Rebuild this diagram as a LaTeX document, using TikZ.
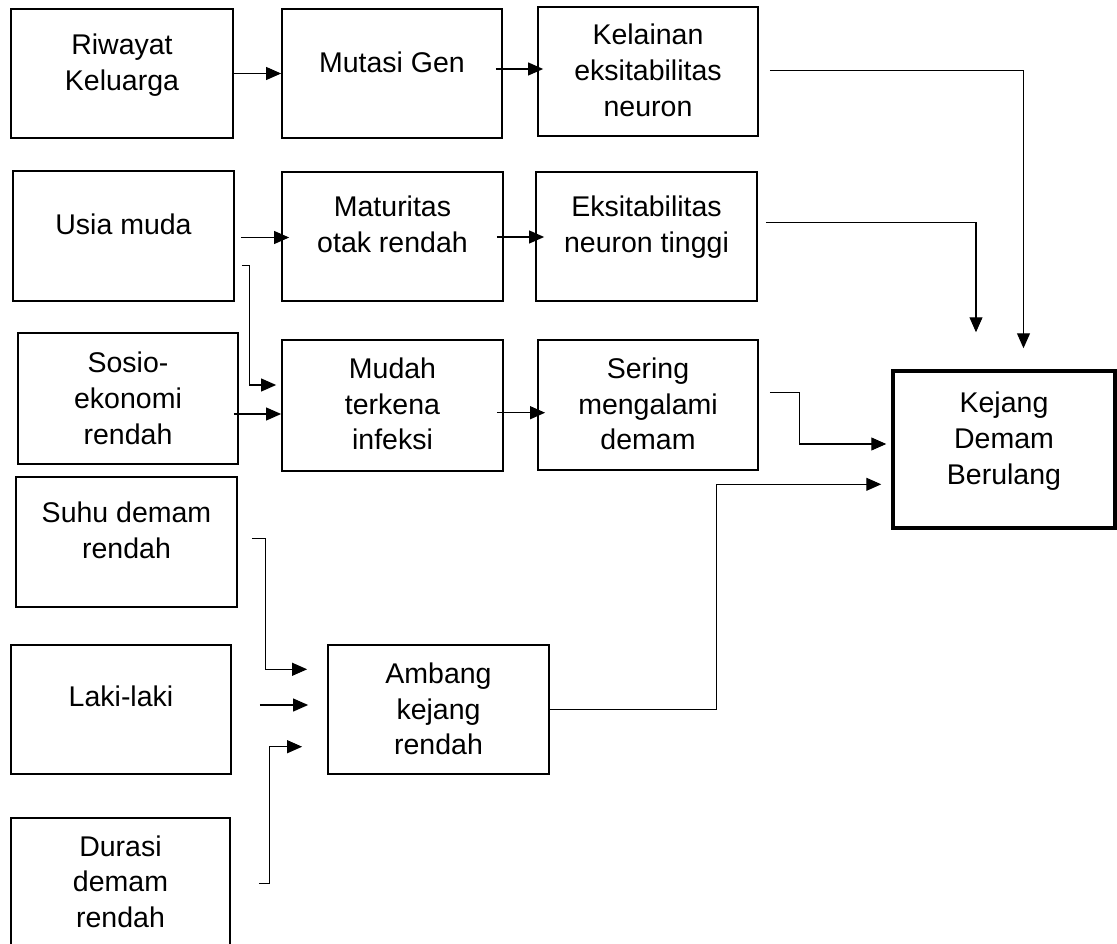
\documentclass[tikz,border=0pt]{standalone}
\usepackage{fontspec}
\setmainfont{Liberation Sans}
\usetikzlibrary{arrows.meta,calc}
\newcommand\tlines[1]{\vtop{\baselineskip=35.7pt\lineskiplimit=-100pt\halign{\hfil##\hfil\cr#1\crcr}}}
\begin{document}
\begin{tikzpicture}[x=1pt,y=-1pt,
  box/.style={draw, rectangle, line width=1.8pt, inner sep=0pt},
  mainbox/.style={box, line width=3.5pt},
  txt/.style={font=\fontsize{28.5}{35.7}\selectfont, inner sep=0pt, anchor=base},
  arr/.style={-{Triangle[length=15pt,width=13pt]}, line width=1.1pt}]
\useasboundingbox (0,0) rectangle (1117,944);
\clip (0,0) rectangle (1117,944);
% boxes
\node[box, minimum width=222pt, minimum height=129pt] (riwayat) at (122,73.5) {};
\node[box, minimum width=220pt, minimum height=129pt] (mutasi) at (392,73.5) {};
\node[box, minimum width=220pt, minimum height=129pt] (kelainan) at (648,71.5) {};
\node[box, minimum width=221pt, minimum height=130pt] (usia) at (123.5,236) {};
\node[box, minimum width=221pt, minimum height=129pt] (maturitas) at (392.5,236.5) {};
\node[box, minimum width=221pt, minimum height=129pt] (eksit) at (646.5,236.5) {};
\node[box, minimum width=220pt, minimum height=131pt] (sosio) at (128,398.5) {};
\node[box, minimum width=221pt, minimum height=131pt] (mudah) at (392.5,405.5) {};
\node[box, minimum width=220pt, minimum height=130pt] (sering) at (648,405) {};
\node[box, minimum width=221pt, minimum height=130pt] (suhu) at (126.5,542) {};
\node[box, minimum width=220pt, minimum height=129pt] (laki) at (121,709.5) {};
\node[box, minimum width=221pt, minimum height=129pt] (ambang) at (438.5,709.5) {};
\node[box, minimum width=219pt, minimum height=130pt] (durasi) at (120.5,883) {};
\node[mainbox, minimum width=222pt, minimum height=157pt] (kejang) at (1004,449.5) {};
% texts
\node[txt] (riwayat-t) at (122,55) {\tlines{Riwayat\cr Keluarga}};
\node[txt] (mutasi-t) at (392,72.7) {\tlines{Mutasi Gen}};
\node[txt] (kelainan-t) at (648,45) {\tlines{Kelainan\cr eksitabilitas\cr neuron}};
\node[txt] (usia-t) at (123.5,235) {\tlines{Usia muda}};
\node[txt] (maturitas-t) at (392.5,216.7) {\tlines{Maturitas\cr otak rendah}};
\node[txt] (eksit-t) at (646.5,216.7) {\tlines{Eksitabilitas\cr neuron tinggi}};
\node[txt] (sosio-t) at (128,372.7) {\tlines{Sosio-\cr ekonomi\cr rendah}};
\node[txt] (mudah-t) at (392.5,378.3) {\tlines{Mudah\cr terkena\cr infeksi}};
\node[txt] (sering-t) at (648,378.3) {\tlines{Sering\cr mengalami\cr demam}};
\node[txt] (suhu-t) at (126.5,522.7) {\tlines{Suhu demam\cr rendah}};
\node[txt] (laki-t) at (121,706.7) {\tlines{Laki-laki}};
\node[txt] (ambang-t) at (438.5,683.3) {\tlines{Ambang\cr kejang\cr rendah}};
\node[txt] (durasi-t) at (120.5,856) {\tlines{Durasi\cr demam\cr rendah}};
\node[txt] (kejang-t) at (1004,412.7) {\tlines{Kejang\cr Demam\cr Berulang}};
% connectors
\draw[arr] (riwayat.east) -- (mutasi.west);
\draw[arr] ($(mutasi.east)+(-7,-4.5)$) -- ($(kelainan.west)+(6,-2.5)$);
\draw[arr] ($(kelainan.east)+(11,-0.8)$) -| ($(kejang.north)+(19.5,-21)$);
\draw[arr] ($(usia.east)+(6,1.5)$) -- ($(maturitas.west)+(8,1)$);
\draw[arr] ($(maturitas.east)+(-7,0.5)$) -- ($(eksit.west)+(9,0.5)$);
\draw[arr] ($(eksit.east)+(8,-13.8)$) -| ($(kejang.north)+(-28,-37)$);
\draw[arr] ($(usia.east)+(7,29.7)$) -- ++(8,0) |- ($(mudah.west)+(-5,-20.5)$);
\draw[arr] ($(sosio.east)+(-5,15.5)$) -- ($(mudah.west)+(0,8.5)$);
\draw[arr] ($(mudah.east)+(-7,7.2)$) -- ($(sering.west)+(8,7.7)$);
\draw[arr] ($(sering.east)+(11,-12.7)$) -- ++(30,0) |- ($(kejang.west)+(-5,-5.5)$);
\draw[arr] (ambang.east) -- ++(167,0) |- ($(kejang.west)+(-10,34.8)$);
\draw[arr] ($(suhu.east)+(14,-3.3)$) -- ++(14,0) |- ($(ambang.west)+(-20,-40.2)$);
\draw[arr] ($(laki.east)+(28,-4.5)$) -- ($(ambang.west)+(-19,-4.5)$);
\draw[arr] ($(durasi.east)+(28,0.5)$) -- ++(11,0) |- ($(ambang.west)+(-25,37.2)$);
\end{tikzpicture}
\end{document}
